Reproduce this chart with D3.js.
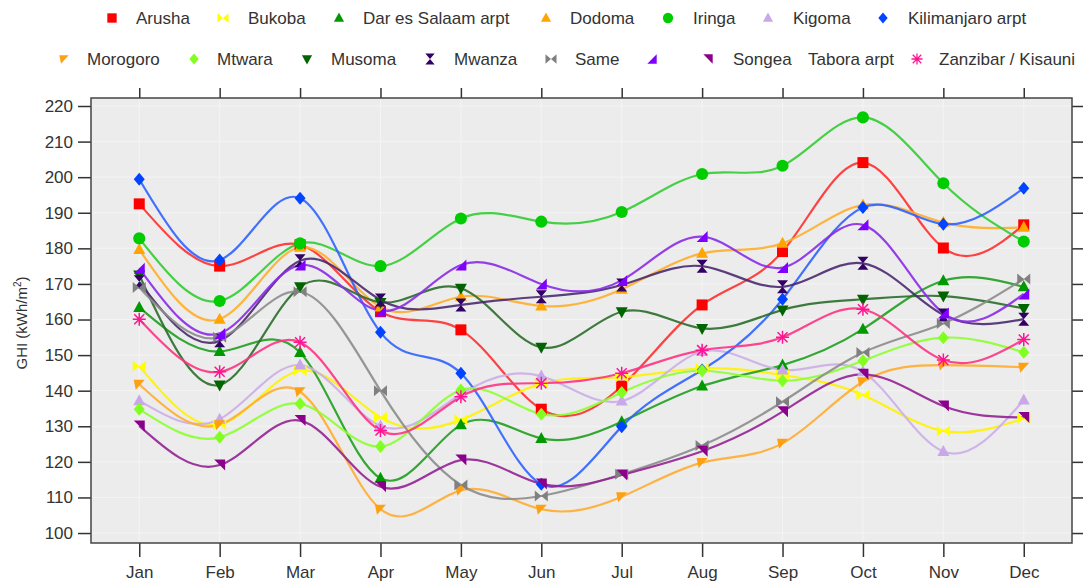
<!DOCTYPE html>
<html>
<head>
<meta charset="utf-8">
<script src="https://cdn.jsdelivr.net/npm/d3@7"></script>
<style>
  body { margin: 0; background: #fff; }
  text { font-family: "Liberation Sans", Arial, sans-serif; fill: #333; }
</style>
</head>
<body>
<div id="chart"></div>
<script>
// Monthly GHI values per station (kWh/m2)
const months = ["Jan","Feb","Mar","Apr","May","Jun","Jul","Aug","Sep","Oct","Nov","Dec"];
const yTicks = [100,110,120,130,140,150,160,170,180,190,200,210,220];

const arusha      = [192.5, 175, 181, 162.2, 157.1, 134.8, 141.3, 164.1, 179.1, 204.1, 180.1, 186.6];
const bukoba      = [146.9, 130.5, 145.6, 132.5, 131.8, 142, 143.8, 146.3, 144.4, 138.8, 128.7, 132.2];
const darEsSalaam = [163.4, 151, 150.7, 115.4, 130.4, 126.6, 131.3, 141.3, 147.2, 157.3, 170.9, 169.2];
const dodoma      = [179.7, 160.1, 180.3, 163.5, 166.4, 163.8, 168.5, 178.6, 181.4, 192.2, 187.3, 185.9];
const iringa      = [182.8, 165.2, 181.4, 175, 188.4, 187.5, 190.2, 200.9, 203.2, 216.8, 198.3, 181.9];
const kigoma      = [137.2, 132, 147.2, 130.1, 139, 144.1, 137.1, 151, 145.8, 145.3, 122.9, 137.4];
const kilimanjaro = [199.4, 176.7, 194.1, 156.4, 144.9, 113.7, 129.9, 145.8, 165.7, 191.5, 186.8, 196.9];
const morogoro    = [141.8, 130.4, 139.7, 106.7, 112, 106.7, 110.2, 119.8, 125.2, 142.5, 147.2, 146.6];
const mtwara      = [134.8, 126.9, 136.3, 124.3, 140.2, 133.4, 139.5, 145.6, 142.8, 148.4, 154.9, 150.8];
const musoma      = [172.5, 141.6, 169.2, 164.8, 168.8, 152.2, 162.2, 157.5, 162.7, 165.7, 166.6, 163.1];
const mwanza      = [170.6, 154, 176.5, 165.5, 164.1, 166.4, 169.7, 175, 169.2, 175.8, 161.3, 160.1];
const same        = [169, 155, 167.8, 140, 113.5, 110.4, 116.5, 124.6, 136.9, 150.7, 158.9, 171.4];
const songea      = [174.4, 156.1, 175.3, 162.4, 175.3, 170, 171, 183.3, 174.6, 186.6, 161.8, 167.2];
const tabora      = [130.1, 119.1, 131.6, 113, 120.5, 113.8, 116.3, 123, 134.1, 144.6, 135.7, 132.5];
const zanzibar    = [160.1, 145.3, 153.6, 128.8, 138.3, 142.1, 144.9, 151.4, 155, 162.9, 148.6, 154.4];

// marker shapes
const shapes = {
    square:   "M-5.5,-5.5h11v11h-11Z",
    triUp:    "M0,-6.5L6,4.5L-6,4.5Z",
    triDown:  "M0,6.5L6,-4.5L-6,-4.5Z",
    circle:   d3.symbol(d3.symbolCircle, 115)(),
    diamond:  "M0,-6.5L5.5,0L0,6.5L-5.5,0Z",
    bowtie:   "M-6.5,-5.5L0,0L-6.5,5.5Z M6.5,-5.5L0,0L6.5,5.5Z",
    hourglass:"M-5.5,-6.5L5.5,-6.5L0,0Z M-5.5,6.5L5.5,6.5L0,0Z",
    lowRight: "M5.5,-5.5L5.5,5.5L-5.5,5.5Z",
    topRight: "M-5.5,-5.5L5.5,-5.5L5.5,5.5Z",
    topLeft:  "M-5.5,-4.5L5.5,-4.5L-3.5,5.5Z",
    star:     "M-5,-5L5,5M-5,5L5,-5M0,-6.5V6.5M-6.5,0H6.5"
};

const series = [
    {name: "Arusha", values: arusha, color: "#ff0000", line: "#ff3030", shape: "square"},
    {name: "Bukoba", values: bukoba, color: "#ffff00", line: "#fff200", shape: "bowtie"},
    {name: "Dar es Salaam arpt", values: darEsSalaam, color: "#009900", line: "#1f9f1f", shape: "triUp"},
    {name: "Dodoma", values: dodoma, color: "#ffa500", line: "#ffae2a", shape: "triUp"},
    {name: "Iringa", values: iringa, color: "#00cc00", line: "#33cc33", shape: "circle"},
    {name: "Kigoma", values: kigoma, color: "#c8a8e8", line: "#ccaee8", shape: "triUp"},
    {name: "Kilimanjaro arpt", values: kilimanjaro, color: "#0044ff", line: "#2f63ff", shape: "diamond"},
    {name: "Morogoro", values: morogoro, color: "#ffa010", line: "#ffac30", shape: "topLeft"},
    {name: "Mtwara", values: mtwara, color: "#80ff20", line: "#8cff30", shape: "diamond"},
    {name: "Musoma", values: musoma, color: "#006400", line: "#2b6e2b", shape: "triDown"},
    {name: "Mwanza", values: mwanza, color: "#330066", line: "#4a2a70", shape: "hourglass"},
    {name: "Same", values: same, color: "#808080", line: "#8c8c8c", shape: "bowtie"},
    {name: "Songea", values: songea, color: "#7f00ff", line: "#8a2be8", shape: "lowRight"},
    {name: "Tabora arpt", values: tabora, color: "#8b008b", line: "#932293", shape: "topRight"},
    {name: "Zanzibar / Kisauni", values: zanzibar, color: "#ff1493", line: "#ff3385", shape: "star"}
];

const width = 1083, height = 584;
const margin = {top: 98, right: 11, bottom: 41, left: 91};
const w = width - margin.left - margin.right;
const h = height - margin.top - margin.bottom;

const svg = d3.select("#chart").append("svg")
    .attr("width", width)
    .attr("height", height);

const g = svg.append("g").attr("transform", `translate(${margin.left},${margin.top})`);

const x = d3.scalePoint().domain(months).range([0, w]).padding(0.6);
const y = d3.scaleLinear().domain([97.2, 222.25]).range([h, 0]);

// panel background
g.append("rect").attr("width", w).attr("height", h).attr("fill", "#ececec");

// faint grid
g.append("g").selectAll("line").data(yTicks).join("line")
    .attr("x1", 0).attr("x2", w)
    .attr("y1", d => y(d)).attr("y2", d => y(d))
    .attr("stroke", "#f4f4f4").attr("stroke-width", 1);
g.append("g").selectAll("line").data(months).join("line")
    .attr("y1", 0).attr("y2", h)
    .attr("x1", d => x(d)).attr("x2", d => x(d))
    .attr("stroke", "#f4f4f4").attr("stroke-width", 1);

// axes
function styleAxis(sel) {
    sel.select(".domain").remove();
    sel.selectAll(".tick line").attr("stroke", "#333").attr("stroke-width", 1.5);
    sel.selectAll(".tick text").attr("font-size", 17).attr("fill", "#333")
       .attr("font-family", "'Liberation Sans', Arial, sans-serif");
}

g.append("g").call(d3.axisLeft(y).tickValues(yTicks).tickSize(13).tickPadding(5)).call(styleAxis);
g.append("g").attr("transform", `translate(${w},0)`)
    .call(d3.axisRight(y).tickValues(yTicks).tickSize(13).tickFormat("")).call(styleAxis);
g.append("g").attr("transform", `translate(0,${h})`)
    .call(d3.axisBottom(x).tickSize(14).tickPadding(9)).call(styleAxis);
g.append("g")
    .call(d3.axisTop(x).tickSize(10).tickFormat("")).call(styleAxis);

// lines
const line = d3.line()
    .x((d, i) => x(months[i]))
    .y(d => y(d))
    .curve(d3.curveNatural);

const lines = g.append("g");
series.forEach(s => {
    lines.append("path")
        .attr("d", line(s.values))
        .attr("fill", "none")
        .attr("stroke", s.line)
        .attr("stroke-width", 2.2)
        .attr("stroke-opacity", 0.9);
});

function drawMarker(sel, s) {
    const p = sel.append("path").attr("d", shapes[s.shape]);
    if (s.shape === "star") {
        p.attr("fill", "none").attr("stroke", s.color).attr("stroke-width", 1.5);
    } else {
        p.attr("fill", s.color);
    }
    return p;
}

const marks = g.append("g");
series.forEach(s => {
    s.values.forEach((v, i) => {
        const m = marks.append("g")
            .attr("transform", `translate(${x(months[i])},${y(v)})`);
        drawMarker(m, s);
    });
});

// frame
g.append("rect").attr("width", w).attr("height", h)
    .attr("fill", "none").attr("stroke", "#444").attr("stroke-width", 1.5);

// y title
svg.append("text")
    .attr("transform", "translate(27,323) rotate(-90)")
    .attr("text-anchor", "middle")
    .attr("font-size", 15)
    .html('GHI (kWh/m<tspan dy="-6" font-size="10">2</tspan><tspan dy="6">)</tspan>');

// legend (positions follow the picture's two rows)
const legendRow1 = [
    {s: 0, mx: 112, tx: 136}, {s: 1, mx: 223, tx: 248}, {s: 2, mx: 339, tx: 363},
    {s: 3, mx: 546, tx: 570}, {s: 4, mx: 668, tx: 693}, {s: 5, mx: 768, tx: 793},
    {s: 6, mx: 883, tx: 908}
];
const legendRow2 = [
    {s: 7, mx: 64, tx: 87}, {s: 8, mx: 194, tx: 217}, {s: 9, mx: 307, tx: 331},
    {s: 10, mx: 430, tx: 454}, {s: 11, mx: 551, tx: 575}, {s: 12, mx: 652, tx: null},
    {s: 13, mx: 708, tx: 733, label: "Songea"}, {s: null, tx: 808, label: "Tabora arpt"},
    {s: 14, mx: 917, tx: 939}
];

const legend = svg.append("g");
function legendItems(items, yy) {
    items.forEach(it => {
        if (it.s !== null) {
            const s = series[it.s];
            const m = legend.append("g").attr("transform", `translate(${it.mx},${yy}) scale(0.85)`);
            drawMarker(m, s);
        }
        if (it.tx !== null) {
            const label = it.label || series[it.s].name;
            legend.append("text")
                .attr("x", it.tx).attr("y", yy)
                .attr("dy", "0.35em")
                .attr("font-size", 17)
                .text(label);
        }
    });
}
legendItems(legendRow1, 18);
legendItems(legendRow2, 59);
</script>
</body>
</html>
